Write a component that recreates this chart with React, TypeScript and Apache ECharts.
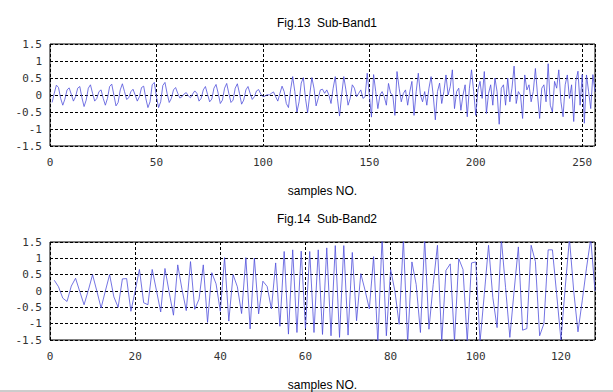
import React, { useEffect, useRef } from "react";
import * as echarts from "echarts";

const title1 = "Fig.13  Sub-Band1";
const title2 = "Fig.14  Sub-Band2";
const xName = "samples NO.";

// Sub-Band1 samples 1..256
const band1: number[] = [
  -0.22, 0.05, 0.29, 0.22, -0.1, -0.3, -0.12, 0.15, 0.21, 0.02,
  -0.18, -0.05, 0.2, 0.25, -0.08, -0.34, -0.15, 0.2, 0.3, 0.05,
  -0.18, -0.1, 0.1, 0.15, -0.1, -0.3, -0.1, 0.25, 0.32, 0.0,
  -0.32, -0.22, 0.15, 0.33, 0.1, -0.13, -0.08, 0.1, 0.17, 0.0,
  -0.18, -0.05, 0.22, 0.26, -0.1, -0.37, -0.2, 0.3, 0.37, -0.05,
  -0.37, -0.2, 0.28, 0.37, 0.05, -0.22, -0.1, 0.15, 0.22, 0.05,
  -0.09, -0.05, 0.03, 0.07, -0.03, -0.08, 0.03, 0.12, 0.05, -0.18,
  -0.1, 0.15, 0.25, 0.02, -0.2, -0.12, 0.2, 0.31, 0.05, -0.25,
  -0.15, 0.2, 0.34, 0.05, -0.22, -0.15, 0.2, 0.33, 0.05, -0.27,
  -0.15, 0.15, 0.25, 0.05, -0.13, -0.05, 0.12, 0.16, 0.03, -0.05,
  -0.03, 0.01, 0.0, 0.05, 0.09, -0.05, -0.18, 0.05, 0.26, 0.1,
  -0.25, -0.37, 0.15, 0.54, 0.1, -0.5, -0.2, 0.35, 0.51, -0.1,
  -0.52, 0.0, 0.51, 0.2, -0.32, -0.1, 0.15, 0.17, 0.05, 0.15,
  0.0, -0.25, 0.2, 0.54, -0.1, -0.62, 0.0, 0.54, 0.15, -0.3,
  -0.1, 0.3, 0.2, -0.05, 0.05, 0.15, -0.1, -0.05, 0.64, 0.0,
  -0.65, 0.6, 0.1, -0.4, 0.0, 0.1, -0.05, -0.3, 0.34, 0.05,
  0.0, -0.6, 0.69, 0.2, -0.2, 0.05, 0.15, -0.3, 0.1, 0.4,
  -0.6, 0.1, 0.64, 0.0, -0.2, 0.1, -0.3, 0.2, 0.54, 0.0,
  -0.73, 0.1, 0.35, -0.25, 0.1, 0.59, 0.0, 0.25, 0.74, -0.4,
  0.1, 0.2, -0.45, 0.0, 0.3, -0.64, 0.2, 0.74, 0.1, -0.6,
  0.15, 0.4, -0.1, 0.69, -0.54, 0.05, 0.3, -0.3, 0.5, 0.1,
  -0.86, 0.2, 0.3, -0.3, 0.5, -0.2, 0.2, 0.85, -0.25, 0.1,
  0.0, -0.69, 0.59, 0.15, 0.3, -0.2, 0.1, 0.78, 0.0, -0.69,
  0.2, 0.3, -0.2, 0.92, -0.3, -0.5, 0.4, 0.2, 0.74, -0.2,
  -0.64, 0.3, 0.59, -0.1, 0.3, -0.78, 0.4, 0.7, -0.3, 0.6,
  -0.83, 0.59, 0.1, -0.4, 0.6, 0.1,
];

// Sub-Band2 samples 1..128
const band2: number[] = [
  0.33, 0.13, -0.22, -0.32, 0.15, 0.39, -0.02, -0.42, 0.02, 0.5,
  0.0, -0.52, 0.0, 0.5, -0.18, -0.5, 0.37, 0.38, -0.62, 0.0,
  0.66, -0.36, -0.42, 0.66, 0.02, -0.64, 0.69, -0.05, -0.74, 0.8,
  0.05, -0.6, 0.9, -0.56, -0.25, 0.8, -0.96, 0.56, 0.22, -0.62,
  1.02, -0.92, 0.5, 0.13, -0.69, 1.02, -1.16, 1.01, -0.7, 0.3,
  0.14, -0.55, 0.86, -1.08, 1.21, -1.32, 1.26, -1.27, 1.22, -1.15,
  1.21, -1.27, 1.26, -1.33, 1.32, -1.37, 1.39, -1.42, 1.39, -1.35,
  1.18, -0.91, 0.53, 0.02, -0.55, 1.05, -1.6, 1.65, -1.37, 0.66,
  0.0, -1.02, 1.6, -1.6, 0.89, 0.2, -1.27, 1.6, -1.17, 0.2,
  1.4, -1.55, 0.63, 0.83, -1.55, 0.99, 0.66, -1.55, 0.86, 0.89,
  -1.55, -0.1, 1.4, -0.2, -1.12, 1.6, 0.1, -1.42, 0.0, 1.35,
  -1.2, -1.15, 1.4, 0.9, -1.37, -1.0, 1.26, 1.26, -0.1, -1.5,
  0.1, 1.6, 0.0, -1.25, -0.3, 0.7, 1.6, 0.0,
];

const yTicks = { min: -1.5, max: 1.5, interval: 0.5 };
const x1 = { min: 0, max: 256, interval: 50 };
const x2 = { min: 0, max: 128, interval: 20 };

export default function App() {
  const ref = useRef<HTMLDivElement>(null);
  useEffect(() => {
    if (!ref.current) return;
    const chart = echarts.init(ref.current, null, { renderer: "svg" });
    const labelFont = {
      fontFamily: "DejaVu Sans Mono",
      fontSize: 11,
      color: "#333",
    };
    const splitLine = {
      show: true,
      lineStyle: { color: "#000", type: [3, 2] as any, width: 1 },
    };
    const mkX = (gi: number, r: { min: number; max: number; interval: number }) => ({
      type: "value" as const,
      gridIndex: gi,
      min: r.min,
      max: r.max,
      interval: r.interval,
      name: xName,
      nameLocation: "middle" as const,
      nameGap: 39,
      nameTextStyle: { fontFamily: "Liberation Sans", fontSize: 12, color: "#000" },
      axisLine: { show: false },
      axisTick: { show: false },
      axisLabel: { ...labelFont, margin: 11, showMaxLabel: false },
      splitLine,
    });
    const mkY = (gi: number) => ({
      type: "value" as const,
      gridIndex: gi,
      min: yTicks.min,
      max: yTicks.max,
      interval: yTicks.interval,
      axisLine: { show: false },
      axisTick: { show: false },
      axisLabel: { ...labelFont, margin: 8 },
      splitLine,
    });
    chart.setOption({
      animation: false,
      backgroundColor: "#fff",
      title: [
        {
          text: title1,
          left: 322,
          top: 12,
          textAlign: "center",
          textStyle: { fontFamily: "Liberation Sans", fontSize: 12, fontWeight: "normal", color: "#000" },
        },
        {
          text: title2,
          left: 322,
          top: 208,
          textAlign: "center",
          textStyle: { fontFamily: "Liberation Sans", fontSize: 12, fontWeight: "normal", color: "#000" },
        },
      ],
      grid: [
        { left: 50, right: 18, top: 44, height: 102, show: true, borderColor: "#000", borderWidth: 1, backgroundColor: "transparent" },
        { left: 50, right: 18, top: 242, height: 101, show: true, borderColor: "#000", borderWidth: 1, backgroundColor: "transparent" },
      ],
      xAxis: [mkX(0, x1), mkX(1, x2)],
      yAxis: [mkY(0), mkY(1)],
      series: [
        {
          type: "line",
          xAxisIndex: 0,
          yAxisIndex: 0,
          data: band1.map((v, i) => [i + 1, v]),
          showSymbol: false,
          symbol: "none",
          lineStyle: { color: "#5050dc", width: 0.8 },
          clip: true,
        },
        {
          type: "line",
          xAxisIndex: 1,
          yAxisIndex: 1,
          data: band2.map((v, i) => [i + 1, v]),
          showSymbol: false,
          symbol: "none",
          lineStyle: { color: "#5050dc", width: 0.8 },
          clip: true,
        },
      ],
      graphic: [
        {
          type: "line",
          shape: { x1: 0, y1: 391, x2: 613, y2: 391 },
          style: { stroke: "#9a9a9a", lineWidth: 1 },
        },
      ],
    });
    return () => chart.dispose();
  }, []);
  return (
    <div
      ref={ref}
      style={{ position: "fixed", left: 0, top: 0, width: 613, height: 392 }}
    />
  );
}
